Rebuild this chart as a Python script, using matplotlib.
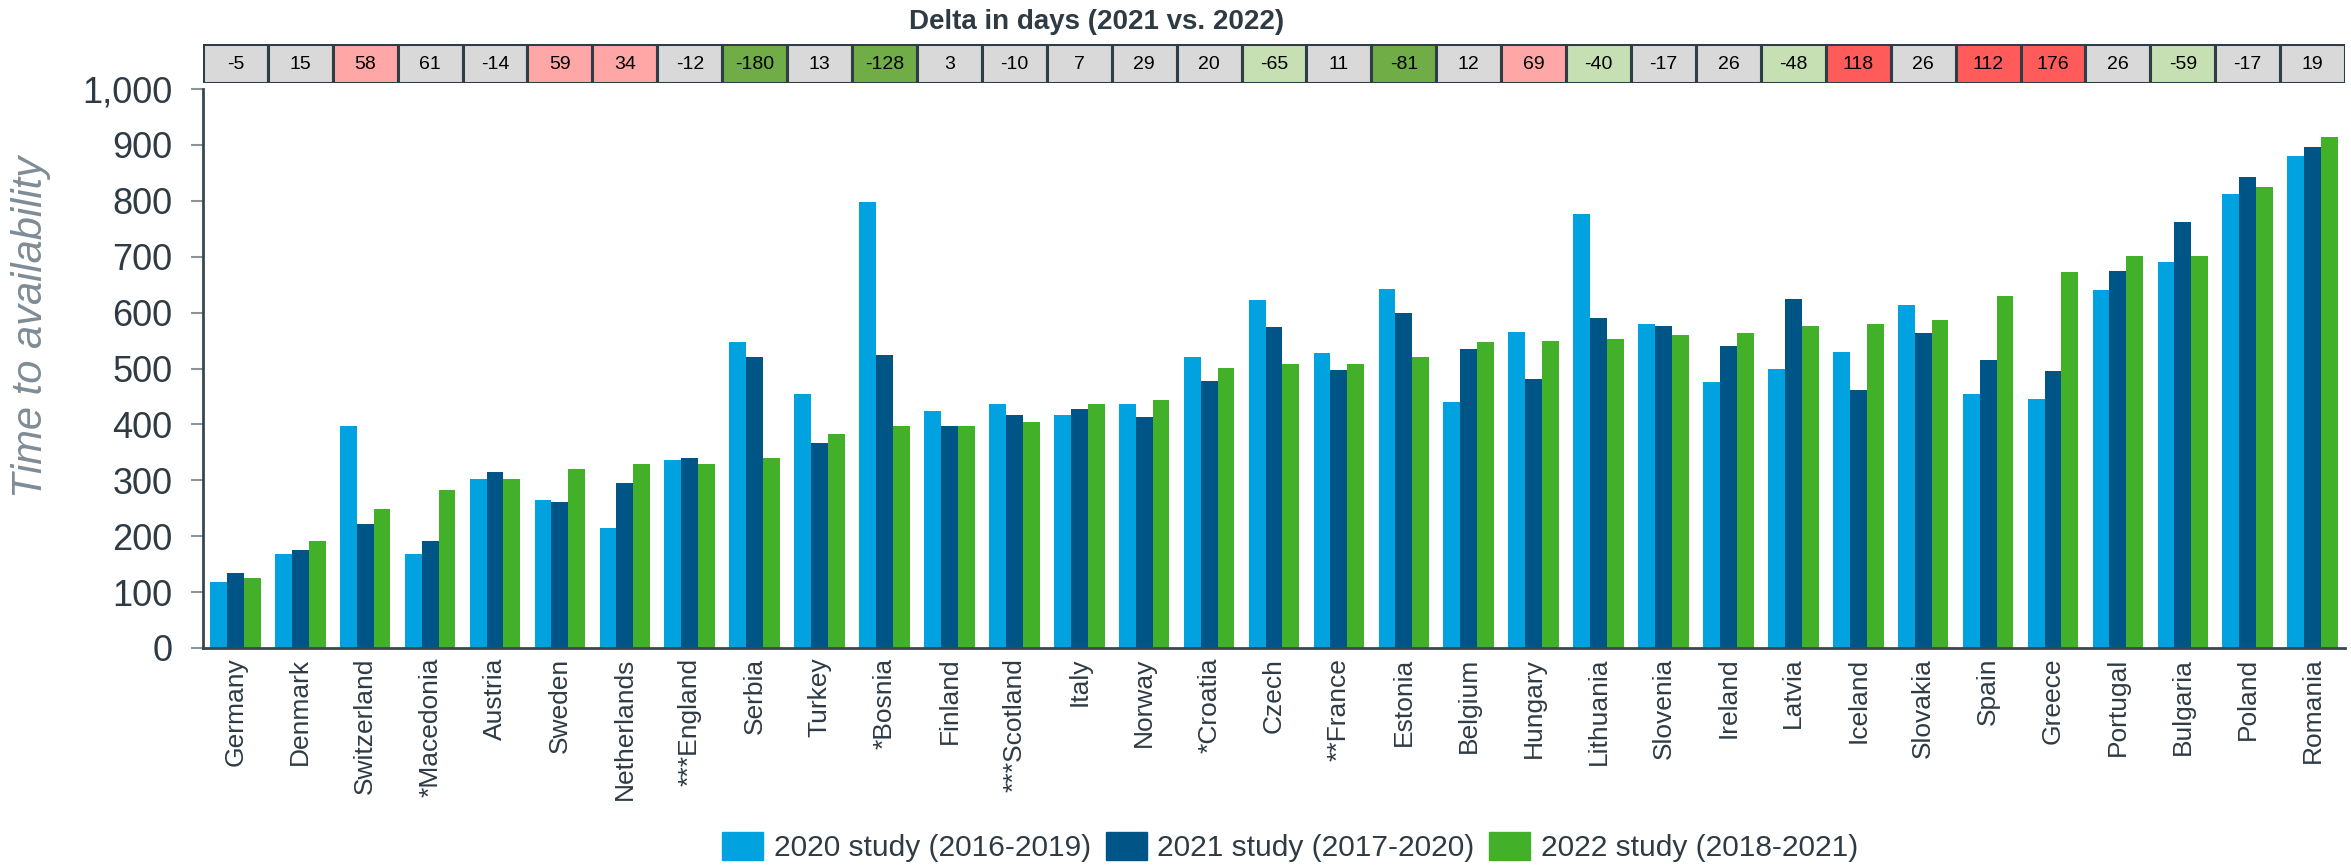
import numpy as np
import matplotlib.pyplot as plt
from matplotlib.patches import Patch

countries = ["Germany", "Denmark", "Switzerland", "*Macedonia", "Austria", "Sweden",
             "Netherlands", "***England", "Serbia", "Turkey", "*Bosnia", "Finland",
             "***Scotland", "Italy", "Norway", "*Croatia", "Czech", "**France", "Estonia",
             "Belgium", "Hungary", "Lithuania", "Slovenia", "Ireland", "Latvia", "Iceland",
             "Slovakia", "Spain", "Greece", "Portugal", "Bulgaria", "Poland", "Romania"]

study_2020 = [118, 169, 398, 169, 302, 264, 215, 337, 547, 455, 798, 424, 436, 417, 436, 520, 623,
              527, 642, 440, 565, 777, 579, 476, 500, 530, 614, 454, 446, 641, 690, 812, 881]
study_2021 = [134, 176, 222, 191, 314, 261, 295, 340, 520, 367, 524, 398, 417, 428, 413, 478, 574,
              497, 600, 535, 482, 590, 576, 541, 625, 461, 563, 515, 496, 674, 762, 842, 896]
study_2022 = [126, 191, 249, 283, 302, 321, 329, 329, 340, 383, 398, 398, 405, 436, 444, 501, 508,
              508, 520, 547, 550, 552, 560, 563, 576, 579, 587, 629, 672, 701, 701, 824, 915]

delta_days = [-5, 15, 58, 61, -14, 59, 34, -12, -180, 13, -128, 3, -10, 7, 29, 20, -65,
              11, -81, 12, 69, -40, -17, 26, -48, 118, 26, 112, 176, 26, -59, -17, 19]
delta_class = ["n", "n", "w", "n", "n", "w", "w", "n", "B", "n", "B", "n", "n", "n", "n", "n", "b",
               "n", "B", "n", "w", "b", "n", "n", "b", "W", "n", "W", "W", "n", "b", "n", "n"]

series_labels = ["2020 study (2016-2019)", "2021 study (2017-2020)", "2022 study (2018-2021)"]

# styles
bar_colors = ["#00A3E0", "#005587", "#43B02A"]
cell_colors = {"n": "#D9D9D9", "w": "#FFA6A6", "W": "#FF5B5B", "b": "#C6E0B4", "B": "#70AD47"}
dark = "#2E3B44"
plt.rcParams["font.family"] = ["Liberation Sans", "DejaVu Sans"]

fig = plt.figure(figsize=(23.51, 8.67), dpi=100)
ax = fig.add_axes([0.0863, 0.2526, 0.9112, 0.6447])

x = np.arange(len(countries))
w = 0.26
for k, vals in enumerate([study_2020, study_2021, study_2022]):
    ax.bar(x + (k - 1) * w, vals, width=w, color=bar_colors[k], linewidth=0)

ax.set_xlim(-0.5, len(countries) - 0.5)
ax.set_ylim(0, 1000)
ax.set_yticks(np.arange(0, 1001, 100))
ax.set_yticklabels([f"{v:,}" for v in range(0, 1001, 100)], fontsize=26, color=dark)
ax.set_xticks(x)
ax.set_xticklabels(countries, rotation=90, fontsize=19, color=dark)
ax.tick_params(axis="x", length=0, pad=7)
ax.tick_params(axis="y", length=9, width=1.5, color="#8A949B", pad=13)
for s in ["top", "right"]:
    ax.spines[s].set_visible(False)
for s in ["left", "bottom"]:
    ax.spines[s].set_color("#3A4750")
    ax.spines[s].set_linewidth(2)
ax.set_ylabel("Time to availability", fontsize=30, style="italic", color="#7F8C96")
ax.yaxis.set_label_coords(-0.071, 0.575)

# delta table
tab = fig.add_axes([0.0863, 0.904, 0.9112, 0.045])
tab.bar(x, 1, width=1, bottom=0, color=[cell_colors[c] for c in delta_class],
        edgecolor="#2F3E46", linewidth=2.2)
for i, d in enumerate(delta_days):
    tab.text(i, 0.47, str(d), ha="center", va="center", fontsize=14, color="black")
tab.set_xlim(-0.5, len(countries) - 0.5)
tab.set_ylim(0, 1)
tab.axis("off")
fig.text(0.4665, 0.975, "Delta in days (2021 vs. 2022)", ha="center", va="center",
         fontsize=20, fontweight="bold", color=dark)

handles = [Patch(color=c) for c in bar_colors]
fig.legend(handles, series_labels, loc="center", bbox_to_anchor=(0.5487, 0.023), ncol=3,
           frameon=False, fontsize=21.5, handlelength=1.37, handleheight=1.07,
           handletextpad=0.35, columnspacing=0.5, labelcolor=dark,
           borderpad=0, borderaxespad=0)

fig.savefig("out.png", dpi=100)
